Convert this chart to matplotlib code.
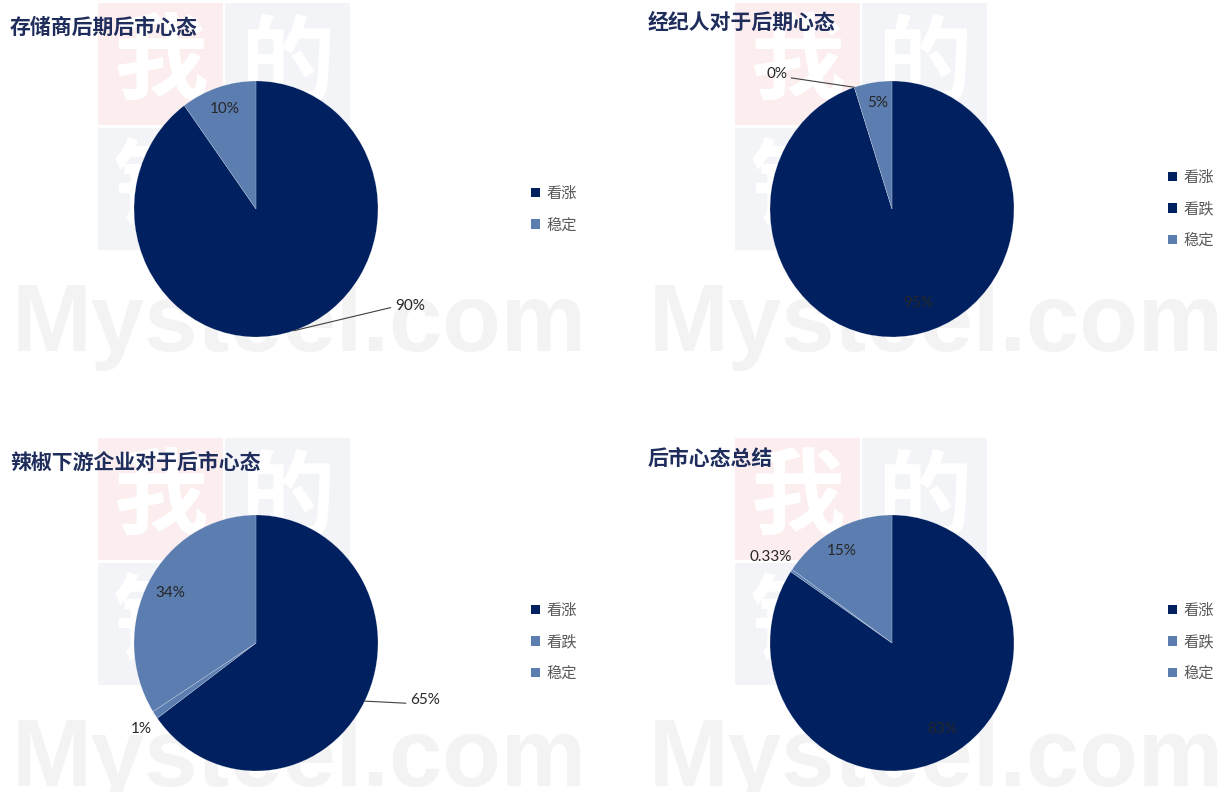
import numpy as np
import matplotlib.pyplot as plt
from matplotlib import font_manager
from matplotlib.patches import Patch, Rectangle

plt.rcParams['font.family'] = ['Noto Sans CJK SC', 'DejaVu Sans']

W, H = 1230, 792
DARK = '#002060'
LIGHT = '#5B7DB0'

titles = ['存储商后期后市心态', '经纪人对于后期心态', '辣椒下游企业对于后市心态', '后市心态总结']

cats_1 = ['看涨', '稳定']
vals_1 = [90, 10]
labels_1 = ['90%', '10%']

cats_2 = ['看涨', '看跌', '稳定']
vals_2 = [95, 0, 5]
labels_2 = ['95%', '0%', '5%']

cats_3 = ['看涨', '看跌', '稳定']
vals_3 = [65, 1, 34]
labels_3 = ['65%', '1%', '34%']

cats_4 = ['看涨', '看跌', '稳定']
vals_4 = [83, 0.33, 15]
labels_4 = ['83%', '0.33%', '15%']

# layout: pie centre / radii (px), title pos, legend pos, label placement
# placement per wedge: (radius factor, angle offset from wedge middle, leader relpos or None)
charts = [
    dict(cats=cats_1, vals=vals_1, labels=labels_1, colors=[DARK, LIGHT],
         center=(256, 209), r=(122, 128), title=(10, 27), legend=(531, 209),
         place=[(1.47, 41, (0, 0.45)), (0.82, 0, None)]),
    dict(cats=cats_2, vals=vals_2, labels=labels_2, colors=[DARK, DARK, LIGHT],
         center=(892, 209), r=(122, 128), title=(648, 22), legend=(1168, 209),
         place=[(0.765, 7.2, None), (1.414, 24, (1, 0.3)), (0.836, -1.1, None)]),
    dict(cats=cats_3, vals=vals_3, labels=labels_3, colors=[DARK, LIGHT, LIGHT],
         center=(256, 643), r=(122, 128), title=(10, 462), legend=(531, 642),
         place=[(1.455, 9.2, (0, 0.25)), (1.158, 1.3, None), (0.806, -0.2, None)]),
    dict(cats=cats_4, vals=vals_4, labels=labels_4, colors=[DARK, LIGHT, LIGHT],
         center=(892, 643), r=(122, 128), title=(648, 458), legend=(1168, 642),
         place=[(0.787, 3.4, None), (1.198, 0.4, None), (0.828, 2.2, None)]),
]

fig = plt.figure(figsize=(W / 100, H / 100), dpi=100)

# faint background watermark
installed = {f.name for f in font_manager.fontManager.ttflist}
if 'Liberation Sans Narrow' in installed:
    wm_family, wm_size = 'Liberation Sans Narrow', 84
else:
    wm_family, wm_size = 'Liberation Sans', 69

bg = fig.add_axes([0, 0, 1, 1])
bg.set_xlim(0, W)
bg.set_ylim(H, 0)
bg.axis('off')
for ox, oy in [(0, 0), (637, 0), (0, 435), (637, 435)]:
    boxes = [(98, 3, '#FCEEEE', '我'), (225, 3, '#F3F4F8', '的'),
             (98, 128, '#F3F4F8', '钢'), (225, 128, '#FCEEEE', '铁')]
    for bx, by, col, ch in boxes:
        bg.add_patch(Rectangle((ox + bx, oy + by), 125, 122, color=col, lw=0))
        bg.text(ox + bx + 62, oy + by + 62, ch, fontsize=68, fontweight='bold',
                color='white', ha='center', va='center')
    bg.text(ox + 12, oy + 351, 'Mysteel.com', fontsize=wm_size, fontweight='bold',
            color='#F3F3F3', family=wm_family, ha='left', va='baseline')

for i, ch in enumerate(charts):
    cx, cy = ch['center']
    rx, ry = ch['r']
    ax = fig.add_axes([(cx - rx) / W, 1 - (cy + ry) / H, 2 * rx / W, 2 * ry / H])
    ax.patch.set_visible(False)
    wedges, _ = ax.pie(ch['vals'], colors=ch['colors'], startangle=90, counterclock=False,
                       radius=1, wedgeprops=dict(edgecolor=(1, 1, 1, 0.45), linewidth=0.3))
    ax.set_xlim(-1, 1)
    ax.set_ylim(-1, 1)
    ax.set_aspect('auto')
    ax.axis('off')

    for w, lab, (rf, off, rel) in zip(wedges, ch['labels'], ch['place']):
        mid = np.deg2rad((w.theta1 + w.theta2) / 2)
        ang = mid + np.deg2rad(off)
        pos = (rf * np.cos(ang), rf * np.sin(ang))
        if rel is None:
            ax.text(pos[0], pos[1], lab, ha='center', va='center', fontsize=11,
                    family='Lato', color='#262626', clip_on=False)
        else:
            edge = (np.cos(mid), np.sin(mid))
            ax.annotate(lab, xy=edge, xytext=pos, ha='center', va='center', fontsize=11,
                        family='Lato', color='#262626', annotation_clip=False,
                        arrowprops=dict(arrowstyle='-', color='#404040', lw=0.8,
                                        shrinkA=1, shrinkB=0, relpos=rel))

    tx, ty = ch['title']
    fig.text(tx / W, 1 - ty / H, titles[i], fontsize=15, fontweight='bold',
             color='#1F2D5C', ha='left', va='center')

    lx, ly = ch['legend']
    handles = [Patch(facecolor=c, edgecolor='none', label=n) for c, n in zip(ch['colors'], ch['cats'])]
    fig.legend(handles=handles, loc='center left', bbox_to_anchor=(lx / W, 1 - ly / H),
               frameon=False, fontsize=11, labelcolor='#595959', handlelength=0.6,
               handleheight=0.6, handletextpad=0.4, labelspacing=0.95,
               borderpad=0, borderaxespad=0)

fig.savefig('out.png', dpi=100, facecolor='white')
